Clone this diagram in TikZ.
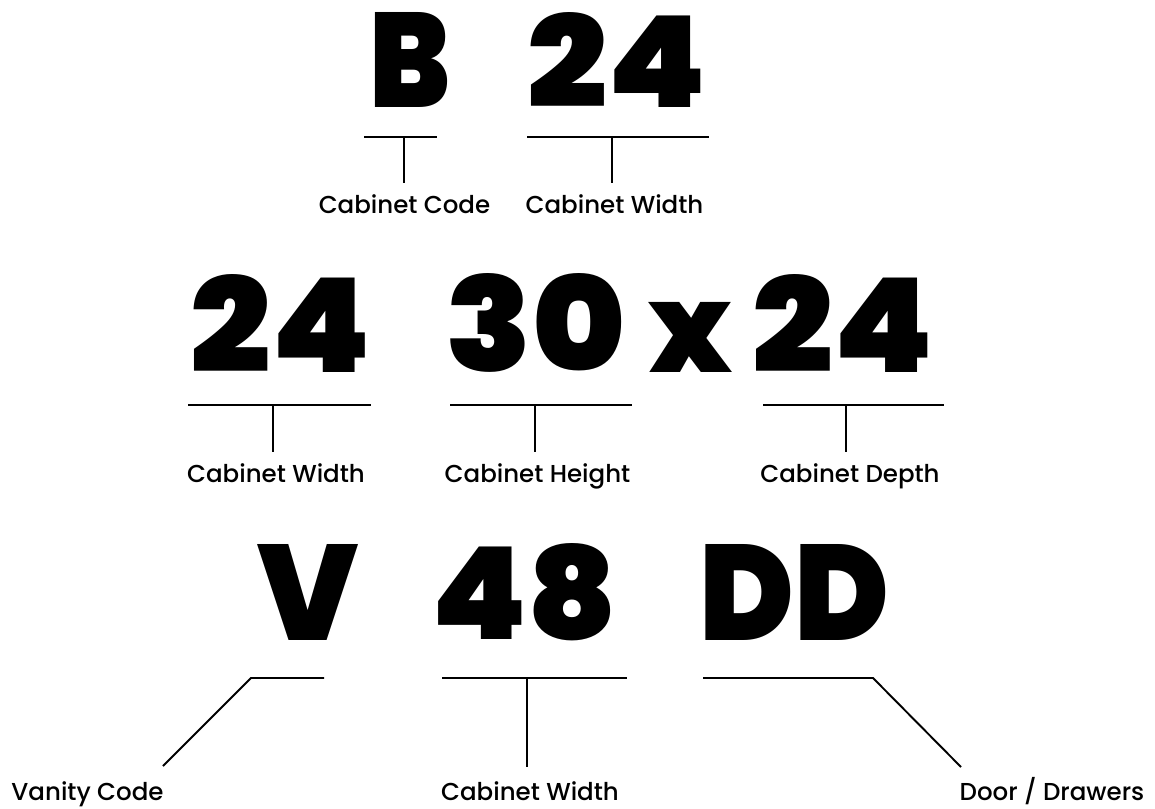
\documentclass[tikz,border=0pt]{standalone}
\usepackage{fontspec}
\usepackage{graphicx}
\newfontfamily\heavyfont{Poppins Black}
\newfontfamily\labelfont{Poppins Medium}
\newcommand\bigtxt[3]{\resizebox{#1pt}{#2pt}{\heavyfont #3}}
\tikzset{
  big/.style={inner sep=0pt, anchor=south},
  lbl/.style={inner sep=0pt, anchor=base, font=\labelfont\fontsize{24.5}{28}\selectfont},
  rule/.style={line width=1.9pt},
  stem/.style={line width=1.6pt},
}
\begin{document}
\begin{tikzpicture}[x=1pt,y=-1pt]
\useasboundingbox (0,0) rectangle (1155,808);
% Row 1
\node[big] (B) at (410.5,108) {\bigtxt{81}{95}{B}};
\node[big] (w1) at (617.5,108) {\bigtxt{179}{95}{24}};
\coordinate (b1l) at (364,137); \coordinate (b1r) at (437,137);
\coordinate (b1m) at (404,137); \coordinate (b1e) at (404,183);
\coordinate (w1l) at (527,137); \coordinate (w1r) at (709,137);
\coordinate (w1m) at (612,137); \coordinate (w1e) at (612,183);
\draw[rule] (b1l) -- (b1r);
\draw[stem] (b1m) -- (b1e);
\draw[rule] (w1l) -- (w1r);
\draw[stem] (w1m) -- (w1e);
\node[lbl] (lcode) at (404.5,213) {Cabinet Code};
\node[lbl] (lw1) at (614.5,213) {Cabinet Width};
% Row 2
\node[big] (w2) at (281,373) {\bigtxt{180}{98}{24}};
\node[big] (h2) at (536,373) {\bigtxt{180}{98}{30}};
\node[big] (x2) at (690,373) {\bigtxt{84}{70}{x}};
\node[big] (d2) at (843.5,373) {\bigtxt{181}{98}{24}};
\coordinate (w2l) at (188,405); \coordinate (w2r) at (371,405);
\coordinate (w2m) at (273,405); \coordinate (w2e) at (273,452);
\coordinate (h2l) at (450,405); \coordinate (h2r) at (632,405);
\coordinate (h2m) at (535,405); \coordinate (h2e) at (535,452);
\coordinate (d2l) at (763,405); \coordinate (d2r) at (944,405);
\coordinate (d2m) at (846,405); \coordinate (d2e) at (846,452);
\draw[rule] (w2l) -- (w2r);
\draw[stem] (w2m) -- (w2e);
\draw[rule] (h2l) -- (h2r);
\draw[stem] (h2m) -- (h2e);
\draw[rule] (d2l) -- (d2r);
\draw[stem] (d2m) -- (d2e);
\node[lbl] (lw2) at (276,482) {Cabinet Width};
\node[lbl] (lh2) at (537.5,482) {Cabinet Height};
\node[lbl] (ld2) at (850,482) {Cabinet Depth};
% Row 3
\node[big] (V) at (308.5,641) {\bigtxt{101}{96}{V}};
\node[big] (w3) at (524,641) {\bigtxt{186}{96}{48}};
\node[big] (DD) at (794,641) {\bigtxt{190}{96}{DD}};
\coordinate (vr) at (324,678); \coordinate (vk) at (251,678); \coordinate (ve) at (163,766);
\coordinate (w3l) at (442,678); \coordinate (w3r) at (627,678);
\coordinate (w3m) at (527,678); \coordinate (w3e) at (527,767);
\coordinate (dl) at (703,678); \coordinate (dk) at (873,678); \coordinate (de) at (961,767);
\draw[rule, line join=miter] (vr) -- (vk) -- (ve);
\draw[rule] (w3l) -- (w3r);
\draw[stem] (w3m) -- (w3e);
\draw[rule, line join=miter] (dl) -- (dk) -- (de);
\node[lbl] (lv) at (87.5,800) {Vanity Code};
\node[lbl] (lw3) at (530,800) {Cabinet Width};
\node[lbl] (ldd) at (1052,800) {Door / Drawers};
\end{tikzpicture}
\end{document}
